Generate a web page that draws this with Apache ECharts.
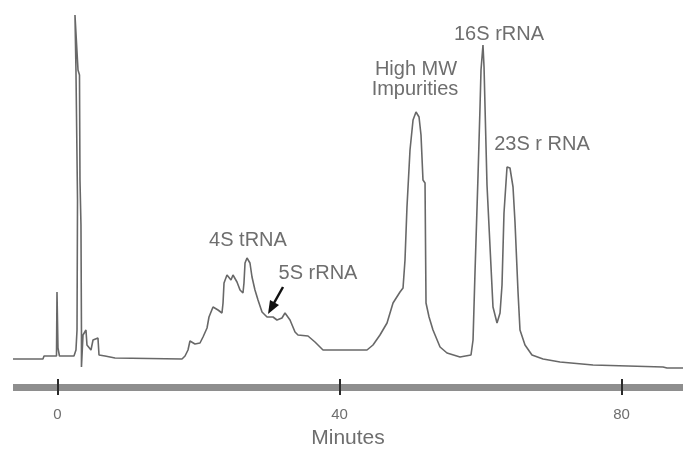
<!DOCTYPE html>
<html>
<head>
<meta charset="utf-8">
<title>rRNA chromatogram</title>
<script src="https://cdn.jsdelivr.net/npm/echarts@6/dist/echarts.min.js"></script>
<style>
    html, body { margin: 0; padding: 0; background: #fff; }
    #chart { width: 683px; height: 454px; }
</style>
</head>
<body>
<div id="chart"></div>
<script>
// retention time (min) and detector signal (arbitrary units)
const minutes = [
    -6.31, -2.06, -1.91, -0.14, -0.07, 0.07, 0.28,
    2.34, 2.62, 2.77, 2.84, 2.62, 2.48, 2.70, 2.91, 3.12, 3.19, 3.33, 3.40, 3.40,
    3.62, 4.04, 4.18, 4.75, 5.04, 5.74, 5.89, 6.74, 8.16, 8.44,
    17.66, 18.09, 18.51, 18.79, 19.50, 20.21, 20.64, 21.21, 21.49, 22.06,
    22.77, 23.33, 23.48, 23.62, 24.04, 24.61, 24.89, 25.46, 25.89, 26.31,
    26.45, 26.60, 26.88, 27.30, 27.59, 28.01, 28.44, 29.01, 29.72, 30.57,
    31.13, 31.84, 32.27, 32.98, 33.69, 34.11, 35.53, 36.52, 37.66,
    43.90, 44.75, 45.74, 46.74, 47.59, 48.58, 49.01, 49.29, 49.57, 50.00,
    50.43, 50.85, 51.28, 51.56, 51.84, 52.13, 52.27, 52.70, 53.26, 54.26,
    55.25, 57.09, 58.65, 58.94, 59.22, 59.65, 59.93, 60.07, 60.35, 60.50,
    60.64, 60.92, 61.35, 61.77, 62.34, 62.77, 63.05, 63.33, 63.76, 64.18,
    64.61, 64.89, 65.32, 65.60, 66.31, 67.30, 68.87, 71.28, 75.96, 85.89,
    86.45, 88.72
];
const signal = [
    28, 28, 31, 31, 95, 39, 31,
    31, 37, 57, 187, 317, 372, 372, 317, 312, 207, 162, 57, 20,
    52, 57, 42, 37, 47, 49, 32, 31, 29, 28,
    28, 31, 37, 46, 43, 44, 50, 59, 70, 80,
    77, 74, 84, 104, 112, 107, 112, 105, 97, 94,
    104, 124, 129, 124, 110, 97, 87, 75, 70, 70,
    67, 69, 74, 67, 55, 52, 51, 45, 37,
    37, 42, 52, 64, 84, 95, 99, 127, 180, 237,
    267, 275, 270, 252, 207, 204, 84, 70, 57, 40,
    34, 30, 32, 47, 115, 212, 280, 317, 342, 320,
    280, 202, 140, 80, 64, 74, 102, 174, 220, 219,
    200, 165, 95, 57, 42, 32, 28, 25, 22, 20,
    19, 19
];

const tickValues = [0, 40, 80];

// peak annotations: [text, x px, y px]
const peakLabels = [
    ['4S tRNA', 248, 240],
    ['5S rRNA', 318, 273],
    ['High MW', 416, 69],
    ['Impurities', 415, 89],
    ['16S rRNA', 499, 34],
    ['23S r RNA', 542, 144]
];

const FONT = '"Liberation Sans", Arial, sans-serif';
const TEXT_COLOR = '#6e6e6e';

const chart = echarts.init(document.getElementById('chart'));

const trace = minutes.map((m, i) => [m, signal[i]]);

const baseAxis = {
    type: 'value',
    min: -6.31,
    max: 88.72,
    position: 'bottom',
    splitLine: { show: false }
};

chart.setOption({
    animation: false,
    grid: { left: 13, right: 0, top: 0, bottom: 67 },
    xAxis: [
        {
            ...baseAxis,
            name: 'Minutes',
            nameLocation: 'middle',
            nameGap: 41,
            nameTextStyle: { fontFamily: FONT, fontSize: 21, color: TEXT_COLOR },
            axisLine: { lineStyle: { color: '#8e8e8e', width: 7, cap: 'butt' } },
            axisTick: {
                customValues: tickValues,
                length: 8,
                lineStyle: { color: '#2a2a2a', width: 2 }
            },
            axisLabel: {
                customValues: tickValues,
                margin: 20,
                fontFamily: FONT,
                fontSize: 15,
                color: TEXT_COLOR
            }
        },
        {
            ...baseAxis,
            axisLine: { show: false },
            axisTick: {
                customValues: tickValues,
                inside: true,
                length: 8,
                lineStyle: { color: '#2a2a2a', width: 2 }
            },
            axisLabel: { show: false }
        }
    ],
    yAxis: {
        type: 'value',
        min: 0,
        max: 387,
        show: false
    },
    series: [{
        type: 'line',
        data: trace,
        showSymbol: false,
        lineStyle: { color: '#686868', width: 1.6 },
        z: 1
    }],
    graphic: [
        ...peakLabels.map(([text, x, y]) => ({
            type: 'text',
            x: x,
            y: y,
            style: {
                text: text,
                font: '20px ' + FONT,
                fill: TEXT_COLOR,
                align: 'center',
                verticalAlign: 'middle'
            }
        })),
        {
            type: 'line',
            shape: { x1: 283, y1: 287, x2: 274, y2: 303 },
            style: { stroke: '#111', lineWidth: 2.5 }
        },
        {
            type: 'polygon',
            shape: { points: [[268, 314], [279, 305], [270, 300]] },
            style: { fill: '#111' }
        }
    ]
});
</script>
</body>
</html>
